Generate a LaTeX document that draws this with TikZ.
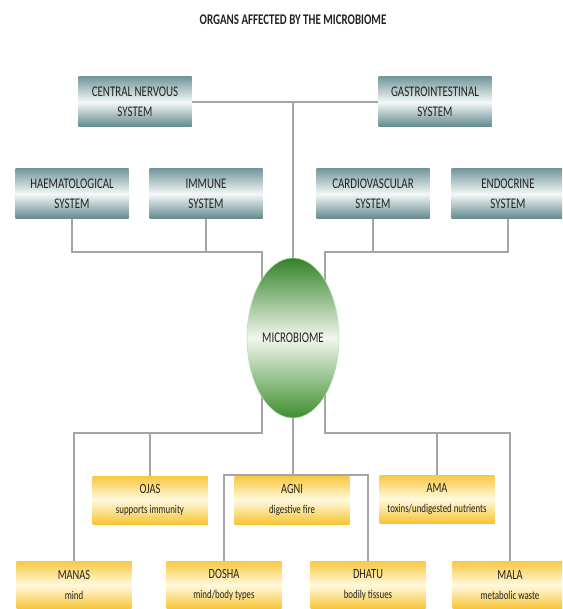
\documentclass[tikz,border=0pt]{standalone}
\usepackage{fontspec}
\setmainfont{Carlito}[FakeStretch=0.74]
\usetikzlibrary{backgrounds,shapes.geometric}

\definecolor{slatetop}{RGB}{118,152,157}
\definecolor{slatemid}{RGB}{244,248,248}
\definecolor{slatebot}{RGB}{96,136,140}
\definecolor{goldtop}{RGB}{248,200,64}
\definecolor{goldmid}{RGB}{255,249,222}
\definecolor{goldbot}{RGB}{248,196,52}
\definecolor{greentop}{RGB}{52,130,40}
\definecolor{greenmid}{RGB}{240,246,236}
\definecolor{greenbot}{RGB}{62,142,48}
\definecolor{linegray}{RGB}{165,165,165}
\definecolor{inkgray}{RGB}{35,35,35}

\def\px{0.025cm}
% one line name, one line gloss
\def\ayur#1#2{#1\\[1pt]{\fontsize{8.5}{10}\selectfont #2}}

\begin{document}
\begin{tikzpicture}[
    x=\px,y=-\px,
    title/.style={font=\bfseries\fontsize{10.5}{12}\selectfont,text=inkgray},
    sysbox/.style={rectangle,inner sep=0pt,align=center,text=inkgray,
        minimum width=113*\px,minimum height=50*\px,
        top color=slatetop,bottom color=slatebot,middle color=slatemid,
        font=\fontsize{10.5}{14}\selectfont},
    ayurbox/.style={rectangle,inner sep=0pt,align=center,text=inkgray,
        minimum width=115*\px,minimum height=48*\px,
        top color=goldtop,bottom color=goldbot,middle color=goldmid,
        font=\fontsize{10}{13}\selectfont},
    microbe/.style={ellipse,inner sep=0pt,draw=green!45!gray!40,thin,
        minimum width=92*\px,minimum height=160*\px,
        top color=greentop,bottom color=greenbot,middle color=greenmid,
        text=inkgray,font=\fontsize{10.5}{12}\selectfont},
    link/.style={draw=linegray,line width=1.1pt},
]
\clip (0,0) rectangle (562,609);

\node[title] (head) at (293,20) {ORGANS AFFECTED BY THE MICROBIOME};

%% Organ systems
\node[sysbox] (cns) at (135,102) {CENTRAL NERVOUS\\SYSTEM};
\node[sysbox] (gi) at (435,102) {GASTROINTESTINAL\\SYSTEM};
\node[sysbox] (haem) at (72,194) {HAEMATOLOGICAL\\SYSTEM};
\node[sysbox] (immune) at (206,194) {IMMUNE\\SYSTEM};
\node[sysbox] (cardio) at (373,194) {CARDIOVASCULAR\\SYSTEM};
\node[sysbox] (endo) at (508,194) {ENDOCRINE\\SYSTEM};

\node[microbe] (micro) at (293,338) {MICROBIOME};

%% Ayurvedic concepts
\node[ayurbox] (ojas) at (150,500) {\ayur{OJAS}{supports immunity}};
\node[ayurbox] (agni) at (292,500) {\ayur{AGNI}{digestive fire}};
\node[ayurbox] (ama) at (437,499) {\ayur{AMA}{toxins/undigested nutrients}};
\node[ayurbox] (manas) at (74,585) {\ayur{MANAS}{mind}};
\node[ayurbox] (dosha) at (224,585) {\ayur{DOSHA}{mind/body types}};
\node[ayurbox] (dhatu) at (368,585) {\ayur{DHATU}{bodily tissues}};
\node[ayurbox] (mala) at (510,585) {\ayur{MALA}{metabolic waste}};

% bends of the connectors
\coordinate (ltop) at (262,252);
\coordinate (lbot) at (262,433);
\coordinate (rtop) at (325,252);
\coordinate (rbot) at (325,433);
\coordinate (cbus) at (293,475);

% connectors go behind the ellipse
\begin{pgfonlayer}{background}
\begin{scope}[link]
    \draw (cns) -- (gi);
    \draw (micro.north |- cns.east) -- (micro.north);
    % left side
    \draw (haem.south) |- (ltop) -- (lbot) -| (manas.north);
    \draw (immune.south) -- (immune.south |- ltop);
    \draw (ojas.north) -- (ojas.north |- lbot);
    % right side
    \draw (endo.south) |- (rtop) -- (rbot) -| (mala.north);
    \draw (cardio.south) -- (cardio.south |- rtop);
    \draw (ama.north) -- (ama.north |- rbot);
    % centre
    \draw (micro.south) -- (cbus);
    \draw (dosha.north) -- (dosha.north |- cbus)
        -- (dhatu.north |- cbus) -- (dhatu.north);
\end{scope}
\end{pgfonlayer}
\end{tikzpicture}
\end{document}
